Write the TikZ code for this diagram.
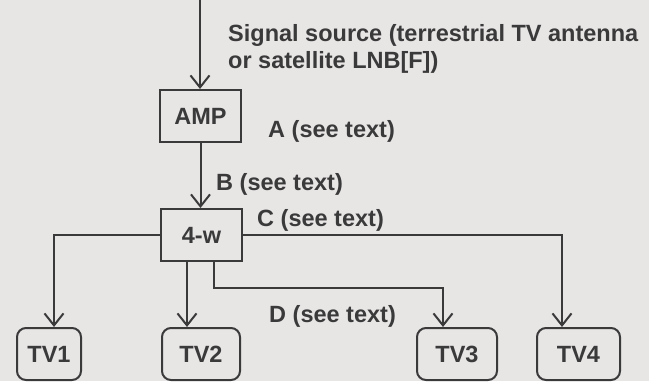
\documentclass[tikz,border=0pt]{standalone}
\usepackage{fontspec}
\setmainfont{Liberation Sans}
\usetikzlibrary{arrows.meta}
\definecolor{ink}{HTML}{3A3A3A}
\definecolor{paper}{HTML}{E8E5E5}
\begin{document}
\begin{tikzpicture}[x=1pt,y=-1pt,
  font=\fontsize{23.5}{27}\selectfont\bfseries,
  text=ink,
  line/.style={draw=ink, line width=2pt},
  arr/.style={line, -{Straight Barb[length=12pt,width=19pt,line width=2pt]}},
  blockbox/.style={draw=ink, line width=2pt, minimum width=81pt, minimum height=52pt, inner sep=0pt},
  tvbox/.style={blockbox, rounded corners=9pt},
  lbl/.style={anchor=base west, inner sep=0pt}]
\fill[paper] (0,0) rectangle (649,381);
\useasboundingbox (0,0) rectangle (649,381);
% nodes
\coordinate (src) at (200,-5);
\node[blockbox] (amp) at (200.5,116) {AMP};
\node[blockbox] (fw) at (201.5,235) {4-w};
\node[tvbox, minimum width=64pt] (tv1) at (49,354) {TV1};
\node[tvbox, minimum width=78pt] (tv2) at (201,354) {TV2};
\node[tvbox, minimum width=80pt] (tv3) at (457,354) {TV3};
\node[tvbox, minimum width=83pt] (tv4) at (578.5,354) {TV4};
% bends
\coordinate (k1) at (54,235);
\coordinate (k4) at (562,235);
\coordinate (d2) at (187,0);
\coordinate (d3) at (214,288);
\coordinate (d3b) at (443,288);
% connectors
\draw[arr] (src) -- (src |- amp.north);
\draw[arr] (amp.south) -- (amp.south |- fw.north);
\draw[arr] (fw.west) -- (k1) -- (k1 |- tv1.north);
\draw[arr] (fw.east) -- (k4) -- (k4 |- tv4.north);
\draw[arr] (fw.south -| d2) -- (d2 |- tv2.north);
\draw[arr] (fw.south -| d3) -- (d3) -- (d3b) -- (d3b |- tv3.north);
% labels
\node[lbl, align=left] (sig) at (228,68) {Signal source (terrestrial TV antenna\\or satellite LNB[F])};
\node[lbl] (la) at (268,137) {A (see text)};
\node[lbl] (lb) at (216,190) {B (see text)};
\node[lbl] (lc) at (257,226) {C (see text)};
\node[lbl] (ld) at (269,322) {D (see text)};
\end{tikzpicture}
\end{document}
